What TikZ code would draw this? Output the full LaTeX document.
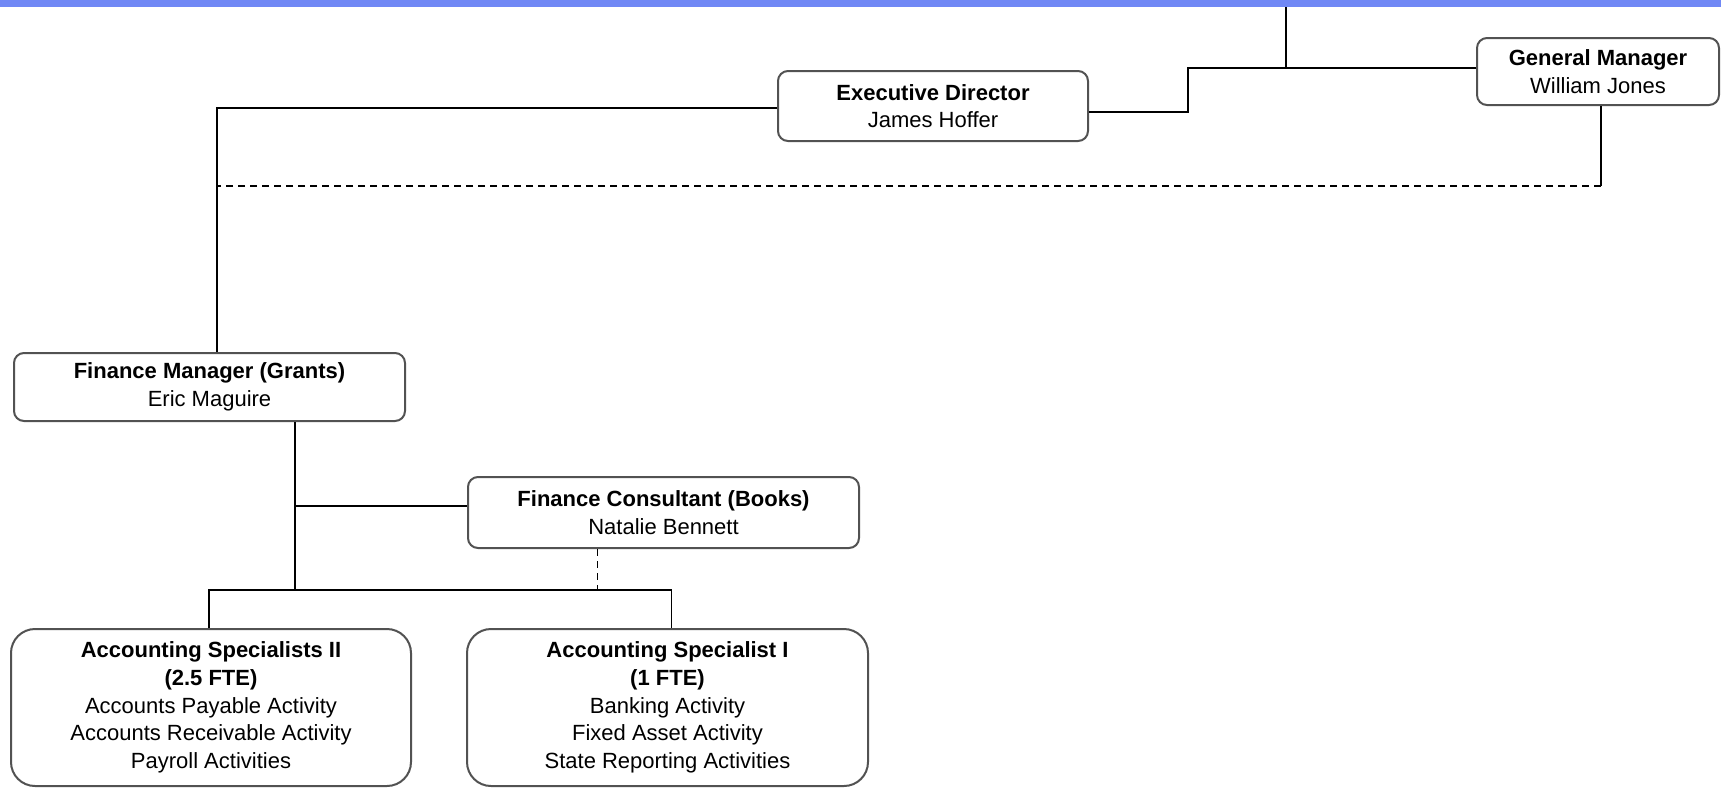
\documentclass[tikz,border=0pt]{standalone}
\usepackage{fontspec}
\setmainfont{Liberation Sans}
\begin{document}
\begin{tikzpicture}[x=1pt,y=-1pt,
  every node/.style={font=\fontsize{22}{27.7}\selectfont},
  rolebox/.style={draw=black!68, line width=2pt, rounded corners=10pt, fill=white,
    inner sep=0pt, align=center, text=black},
  bigbox/.style={rolebox, rounded corners=24pt},
  link/.style={draw=black, line width=1.5pt},
  dotlink/.style={link, dash pattern=on 7pt off 5pt}]
\useasboundingbox (0,0) rectangle (1721,788);
\definecolor{barblue}{RGB}{112,136,245}
\fill[barblue] (0,0) rectangle (1721,7);

% positions
\node[rolebox, minimum width=310pt, minimum height=70pt] (ED) at (933,106)
  {\textbf{Executive Director}\\James Hoffer};
\node[rolebox, minimum width=242pt, minimum height=67pt] (GM) at (1598,71.5)
  {\textbf{General Manager}\\William Jones};
\node[rolebox, minimum width=391pt, minimum height=68pt] (FM) at (209.5,387)
  {\textbf{Finance Manager (Grants)}\\Eric Maguire};
\node[rolebox, minimum width=391pt, minimum height=71pt] (FC) at (663.5,512.5)
  {\textbf{Finance Consultant (Books)}\\Natalie Bennett};
\node[bigbox, minimum width=400pt, minimum height=157pt] (AS2) at (211,707.5)
  {\textbf{Accounting Specialists II}\\\textbf{(2.5 FTE)}\\Accounts Payable Activity\\Accounts Receivable Activity\\Payroll Activities};
\node[bigbox, minimum width=401pt, minimum height=157pt] (AS1) at (667.5,707.5)
  {\textbf{Accounting Specialist I}\\\textbf{(1 FTE)}\\Banking Activity\\Fixed Asset Activity\\State Reporting Activities};

% junction points
\coordinate (bar) at (1286,7);
\coordinate (ja) at (1286,68);
\coordinate (jb) at (1188,68);
\coordinate (jc) at (1188,112);
\coordinate (jd) at (217,108);
\coordinate (je) at (1601,186);
\coordinate (jf) at (217,186);
\coordinate (jg) at (295,506);
\coordinate (jh) at (295,590);
\coordinate (ji) at (209,590);
\coordinate (jj) at (671.5,590);
\coordinate (jk) at (597.5,590);

% reporting lines
\draw[link] (bar) -- (ja);
\draw[link] (GM.west |- ja) -- (jb) -- (jc) -- (ED.east |- jc);
\draw[link] (ED.west |- jd) -- (jd) -- (FM.north -| jd);
\draw[link] (GM.south -| je) -- (je);
\draw[dotlink] (je) -- (jf);
\draw[link] (FM.south -| jg) -- (jh);
\draw[link] (jg) -- (FC.west |- jg);
\draw[link] (AS2.north -| ji) -- (ji) -- (jj) -- (AS1.north -| jj);
\draw[dotlink] (FC.south -| jk) -- (jk);
\end{tikzpicture}
\end{document}
